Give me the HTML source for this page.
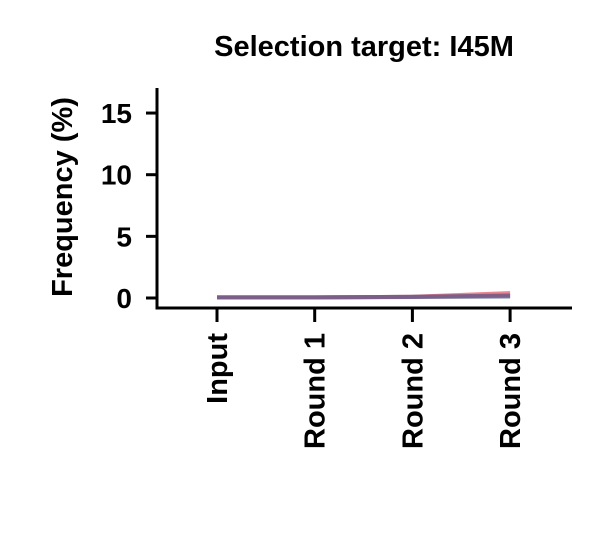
<!DOCTYPE html>
<html><head><meta charset="utf-8"><style>
body{margin:0;background:#fff}
text{font-family:"Liberation Sans",Arial,sans-serif;font-weight:bold;fill:#000}
</style></head><body>
<svg width="600" height="540">
<text x="364" y="56" font-size="29" text-anchor="middle">Selection target: I45M</text>
<g id="axes"></g>
<g id="lines"></g>
<text transform="translate(72,197) rotate(-90)" font-size="29" text-anchor="middle">Frequency (%)</text>
</svg>
<script>
const categories=["Input","Round 1","Round 2","Round 3"];
const yTicks=[0,5,10,15];
const seriesRed=[0.05,0.05,0.1,0.4];
const seriesPurple=[0.05,0.05,0.1,0.2];
const seriesBlue=[0.05,0.05,0.08,0.12];
const ns="http://www.w3.org/2000/svg";
const yS=v=>298-v*12.33;
const xS=i=>217+i*97.7;
const ax=document.getElementById('axes'),ln=document.getElementById('lines');
function mk(tag,at,par){const e=document.createElementNS(ns,tag);for(const k in at)e.setAttribute(k,at[k]);par.appendChild(e);return e;}
const ya=mk('line',{x1:157,y1:88,x2:157,y2:309,stroke:'#000','stroke-width':3},ax);


const xa=mk('line',{x1:155.5,y1:308,x2:572,y2:308,stroke:'#000','stroke-width':3},ax);


yTicks.forEach(v=>{
 mk('line',{x1:146,x2:157,y1:yS(v),y2:yS(v),stroke:'#000','stroke-width':3},ax);
 const t=mk('text',{x:132,y:yS(v)+10,'font-size':28,'text-anchor':'end'},ax);t.textContent=v;
 
 
});
categories.forEach((c,i)=>{
 mk('line',{x1:xS(i),x2:xS(i),y1:308,y2:322,stroke:'#000','stroke-width':3},ax);
 const t=mk('text',{transform:`translate(${xS(i)+10},333) rotate(-90)`,'font-size':29,'text-anchor':'end'},ax);t.textContent=c;
 
 
});
[[seriesRed,'#e8707a','series-red'],[seriesBlue,'#6a7090','series-blue'],[seriesPurple,'#7a5a88','series-purple']].forEach(([d,col,n])=>{
 const p=mk('polyline',{points:d.map((v,i)=>xS(i)+','+yS(v)).join(' '),fill:'none',stroke:col,'stroke-width':4,opacity:0.85},ln);
 
 
});
</script>
</body></html>
